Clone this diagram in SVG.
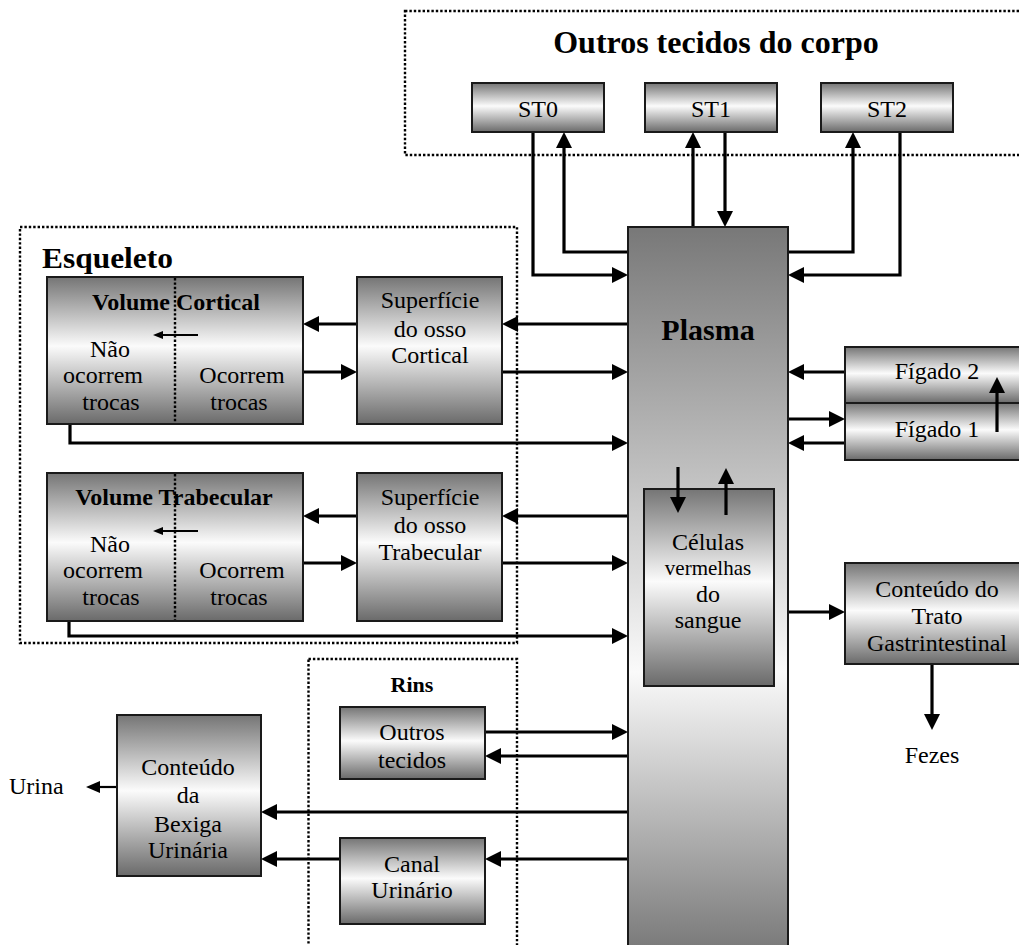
<svg xmlns="http://www.w3.org/2000/svg" width="1019" height="945" viewBox="0 0 1019 945">
<style>
text{font-family:"Liberation Serif","Times New Roman",serif;font-size:24px;fill:#000;text-anchor:middle}
.b{font-weight:bold}
.box{stroke:#1a1a1a;stroke-width:2;fill:url(#g)}
.dot{fill:none;stroke:#000;stroke-width:2.4;stroke-dasharray:2.4 2}
.c{fill:none;stroke:#000;stroke-width:3.2;marker-end:url(#a)}
</style>
<defs>
<linearGradient id="g" x1="0" y1="0" x2="0" y2="1">
<stop offset="0" stop-color="#757575"/>
<stop offset="0.47" stop-color="#fbfbfb"/>
<stop offset="1" stop-color="#6a6a6a"/>
</linearGradient>
<linearGradient id="gp" x1="0" y1="0" x2="0" y2="1">
<stop offset="0" stop-color="#787878"/>
<stop offset="0.61" stop-color="#fafafa"/>
<stop offset="1" stop-color="#767676"/>
</linearGradient>
<marker id="a" markerUnits="userSpaceOnUse" markerWidth="16" markerHeight="16" refX="5" refY="8" orient="auto">
<path d="M0,0 L16,8 L0,16 z" fill="#000"/>
</marker>
<marker id="m" markerUnits="userSpaceOnUse" markerWidth="14" markerHeight="12" refX="4" refY="6" orient="auto">
<path d="M0,0 L14,6 L0,12 z" fill="#000"/>
</marker>
<marker id="s" markerUnits="userSpaceOnUse" markerWidth="10" markerHeight="8" refX="3" refY="4" orient="auto">
<path d="M0,0 L10,4 L0,8 z" fill="#000"/>
</marker>
</defs>
<rect width="1019" height="945" fill="#fff"/>

<g id="grupo-outros-tecidos">
<rect class="dot" x="405" y="11" width="640" height="144"/>
<text class="b" x="716" y="53" style="font-size:32px">Outros tecidos do corpo</text>
</g>
<g id="grupo-esqueleto">
<rect class="dot" x="20" y="227" width="497" height="416"/>
<text class="b" x="42" y="268" style="font-size:30px;text-anchor:start" textLength="131" lengthAdjust="spacingAndGlyphs">Esqueleto</text>
</g>
<g id="grupo-rins">
<rect class="dot" x="308.5" y="659" width="208.5" height="310"/>
<text class="b" x="412" y="692" style="font-size:22px">Rins</text>
</g>

<g id="connectors">
<path class="c" d="M533,132 V275 H617"/>
<path class="c" d="M628,252 H564 V143"/>
<path class="c" d="M693,227 V143"/>
<path class="c" d="M725,132 V216"/>
<path class="c" d="M788,252 H853 V143"/>
<path class="c" d="M900,132 V275 H799"/>
<path class="c" d="M628,324 H513"/>
<path class="c" d="M502,372 H617"/>
<path class="c" d="M357,324 H314"/>
<path class="c" d="M303,372 H346"/>
<path class="c" d="M70,424 V443 H617"/>
<path class="c" d="M628,516 H513"/>
<path class="c" d="M502,563 H617"/>
<path class="c" d="M357,516 H314"/>
<path class="c" d="M303,563 H346"/>
<path class="c" d="M69,621 V636 H617"/>
<path class="c" d="M845,372 H799"/>
<path class="c" d="M788,419 H834"/>
<path class="c" d="M845,443 H799"/>
<path class="c" d="M788,612 H834"/>
<path class="c" d="M932,664 V719"/>
<path class="c" d="M485,732 H617"/>
<path class="c" d="M628,756 H496"/>
<path class="c" d="M628,812 H272"/>
<path class="c" d="M628,859 H496"/>
<path class="c" d="M340,859 H272"/>
<path d="M117,787 H96" fill="none" stroke="#000" stroke-width="2.2" marker-end="url(#m)"/>
</g>

<g id="st0"><rect class="box" x="472" y="83" width="132" height="49"/><text x="538" y="117">ST0</text></g>
<g id="st1"><rect class="box" x="645" y="83" width="132" height="49"/><text x="711" y="117">ST1</text></g>
<g id="st2"><rect class="box" x="821" y="83" width="132" height="49"/><text x="887" y="117">ST2</text></g>

<g id="plasma">
<rect x="628" y="227" width="160" height="730" fill="url(#gp)" stroke="#1a1a1a" stroke-width="2"/>
<text class="b" x="708" y="340" style="font-size:30px">Plasma</text>
</g>

<g id="celulas">
<rect class="box" x="644" y="489" width="130" height="197"/>
<text x="708" y="550">Células</text>
<text x="708" y="575" style="font-size:21px">vermelhas</text>
<text x="708" y="602">do</text>
<text x="708" y="628">sangue</text>
</g>
<g id="celulas-conectores">
<path class="c" d="M678,467 V502"/>
<path class="c" d="M726,515 V479"/>
</g>

<g id="volume-cortical">
<rect class="box" x="47" y="277" width="256" height="147"/>
<line class="dot" x1="175" y1="278" x2="175" y2="423"/>
<text class="b" x="176" y="310">Volume Cortical</text>
<path d="M198,335 H160" fill="none" stroke="#000" stroke-width="2" marker-end="url(#s)"/>
<text x="110" y="357">Não</text>
<text x="103" y="383">ocorrem</text>
<text x="111" y="410">trocas</text>
<text x="242" y="383">Ocorrem</text>
<text x="239" y="410">trocas</text>
</g>
<g id="superficie-cortical">
<rect class="box" x="357" y="277" width="145" height="147"/>
<text x="430" y="308">Superfície</text>
<text x="430" y="337">do osso</text>
<text x="430" y="363">Cortical</text>
</g>

<g id="volume-trabecular">
<rect class="box" x="47" y="473" width="256" height="148"/>
<line class="dot" x1="175" y1="474" x2="175" y2="620"/>
<text class="b" x="174" y="505">Volume Trabecular</text>
<path d="M198,531 H160" fill="none" stroke="#000" stroke-width="2" marker-end="url(#s)"/>
<text x="110" y="552">Não</text>
<text x="103" y="578">ocorrem</text>
<text x="111" y="605">trocas</text>
<text x="242" y="578">Ocorrem</text>
<text x="239" y="605">trocas</text>
</g>
<g id="superficie-trabecular">
<rect class="box" x="357" y="473" width="145" height="148"/>
<text x="430" y="505">Superfície</text>
<text x="430" y="533">do osso</text>
<text x="430" y="560">Trabecular</text>
</g>

<g id="figado-2">
<rect class="box" x="845" y="347" width="190" height="56"/>
<text x="937" y="379">Fígado 2</text>
</g>
<g id="figado-1">
<rect class="box" x="845" y="403" width="190" height="57"/>
<text x="937" y="437">Fígado 1</text>
</g>
<g id="figado-conector">
<path class="c" d="M997,432 V388"/>
</g>

<g id="trato-gastrintestinal">
<rect class="box" x="845" y="563" width="190" height="101"/>
<text x="937" y="597">Conteúdo do</text>
<text x="937" y="624">Trato</text>
<text x="937" y="651">Gastrintestinal</text>
</g>
<g id="fezes"><text x="932" y="763">Fezes</text></g>

<g id="rins-outros-tecidos">
<rect class="box" x="340" y="707" width="145" height="72"/>
<text x="412" y="740">Outros</text>
<text x="412" y="768">tecidos</text>
</g>
<g id="canal-urinario">
<rect class="box" x="340" y="838" width="145" height="86"/>
<text x="412" y="872">Canal</text>
<text x="412" y="898">Urinário</text>
</g>
<g id="bexiga">
<rect class="box" x="117" y="715" width="144" height="161"/>
<text x="188" y="775">Conteúdo</text>
<text x="188" y="803">da</text>
<text x="188" y="832">Bexiga</text>
<text x="188" y="858">Urinária</text>
</g>
<g id="urina"><text x="9" y="794" style="text-anchor:start">Urina</text></g>
</svg>
